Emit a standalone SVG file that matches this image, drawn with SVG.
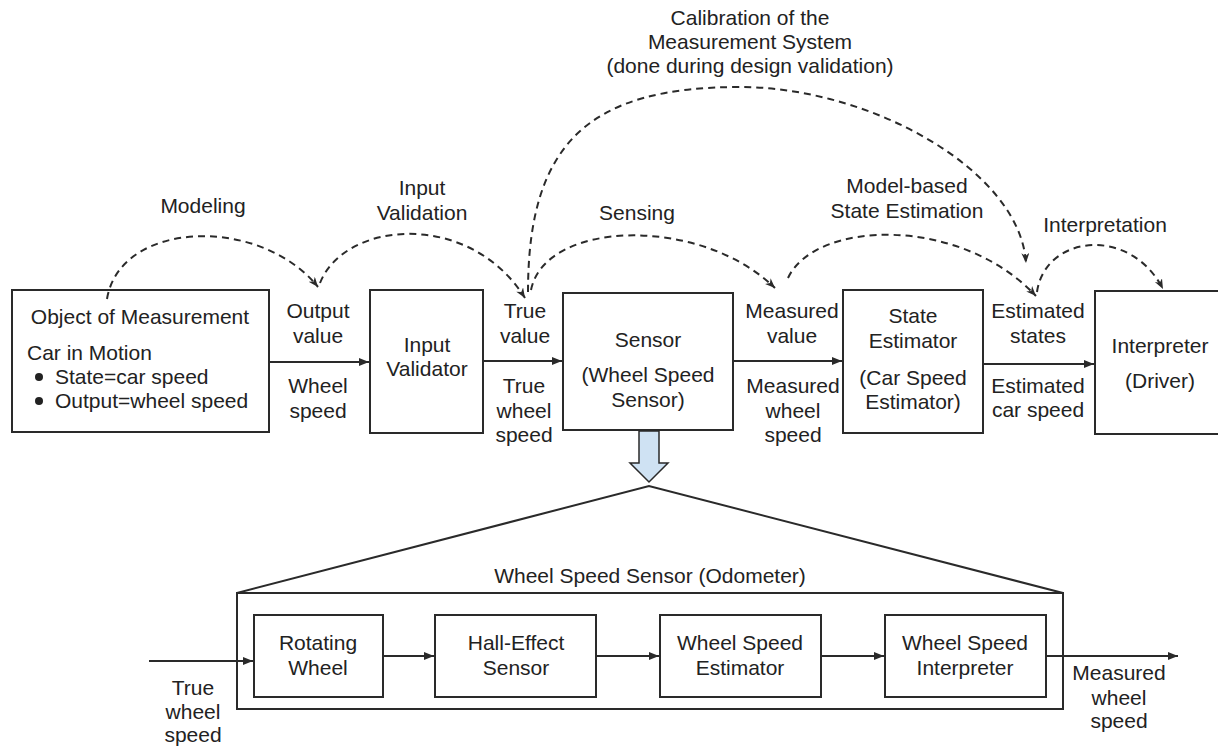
<svg xmlns="http://www.w3.org/2000/svg" width="1218" height="748" viewBox="0 0 1218 748">
<style>
text{font-family:"Liberation Sans",Arial,sans-serif;font-size:21px;fill:#222;}
.c{text-anchor:middle;}
.box{fill:#fff;stroke:#2a2a2a;stroke-width:2;}
.frame{fill:none;stroke:#2a2a2a;stroke-width:2;}
.ln{fill:none;stroke:#2a2a2a;stroke-width:2;}
.ds{fill:none;stroke:#2a2a2a;stroke-width:2;stroke-dasharray:7 5;}
</style>
<defs>
<marker id="ah" markerUnits="userSpaceOnUse" markerWidth="11" markerHeight="9" refX="10" refY="4" orient="auto">
<path d="M0,0 L10,4 L0,8 z" fill="#2a2a2a"/>
</marker>
<marker id="dh" markerUnits="userSpaceOnUse" markerWidth="11" markerHeight="9" refX="10" refY="4" orient="auto">
<path d="M0,0 L10,4 L0,8 L3,4 z" fill="#2a2a2a"/>
</marker>
</defs>
<rect width="1218" height="748" fill="#fff"/>

<g id="object">
<rect class="box" x="12" y="290" width="257" height="142"/>
<text class="c" x="140" y="324">Object of Measurement</text>
<text x="27" y="360">Car in Motion</text>
<circle cx="39" cy="377" r="4" fill="#222"/>
<text x="55" y="384">State=car speed</text>
<circle cx="39" cy="401" r="4" fill="#222"/>
<text x="55" y="408">Output=wheel speed</text>
</g>

<g id="input-validator">
<rect class="box" x="370" y="290" width="113" height="143"/>
<text class="c" x="427" y="352">Input</text>
<text class="c" x="427" y="376">Validator</text>
</g>

<g id="sensor">
<rect class="box" x="563" y="293" width="170" height="137"/>
<text class="c" x="648" y="347">Sensor</text>
<text class="c" x="648" y="382">(Wheel Speed</text>
<text class="c" x="648" y="407">Sensor)</text>
</g>

<g id="state-estimator">
<rect class="box" x="843" y="290" width="140" height="143"/>
<text class="c" x="913" y="323">State</text>
<text class="c" x="913" y="348">Estimator</text>
<text class="c" x="913" y="385">(Car Speed</text>
<text class="c" x="913" y="409">Estimator)</text>
</g>

<g id="interpreter">
<rect class="box" x="1095" y="291" width="135" height="143"/>
<text class="c" x="1160" y="353">Interpreter</text>
<text class="c" x="1160" y="388">(Driver)</text>
</g>

<g id="odometer">
<rect class="frame" x="237" y="593" width="826" height="116"/>
<text class="c" x="650" y="583">Wheel Speed Sensor (Odometer)</text>
</g>

<g id="rotating-wheel">
<rect class="box" x="254" y="615" width="129" height="82"/>
<text class="c" x="318" y="650">Rotating</text>
<text class="c" x="318" y="675">Wheel</text>
</g>

<g id="hall-effect">
<rect class="box" x="435" y="615" width="161" height="82"/>
<text class="c" x="516" y="650">Hall-Effect</text>
<text class="c" x="516" y="675">Sensor</text>
</g>

<g id="ws-estimator">
<rect class="box" x="660" y="615" width="161" height="82"/>
<text class="c" x="740" y="650">Wheel Speed</text>
<text class="c" x="740" y="675">Estimator</text>
</g>

<g id="ws-interpreter">
<rect class="box" x="885" y="615" width="161" height="82"/>
<text class="c" x="965" y="650">Wheel Speed</text>
<text class="c" x="965" y="675">Interpreter</text>
</g>

<g id="connectors">
<line class="ln" x1="269" y1="362" x2="369" y2="362" marker-end="url(#ah)"/>
<line class="ln" x1="483" y1="361" x2="562" y2="361" marker-end="url(#ah)"/>
<line class="ln" x1="733" y1="361" x2="842" y2="361" marker-end="url(#ah)"/>
<line class="ln" x1="983" y1="364" x2="1094" y2="364" marker-end="url(#ah)"/>
<path class="ds" d="M107,299 C120,220 260,215 318,287" marker-end="url(#dh)"/>
<path class="ds" d="M320,283 C345,220 470,210 525,298" marker-end="url(#dh)"/>
<path class="ds" d="M531,290 C545,220 700,215 775,288" marker-end="url(#dh)"/>
<path class="ds" d="M528,292 C528,142 590,87 740,87 C870,87 1020,170 1026,263" marker-end="url(#dh)"/>
<path class="ds" d="M788,278 C815,220 960,215 1036,296" marker-end="url(#dh)"/>
<path class="ds" d="M1037,292 C1045,235 1130,225 1163,289" marker-end="url(#dh)"/>
<line class="ln" x1="149" y1="661" x2="253" y2="661" marker-end="url(#ah)"/>
<line class="ln" x1="383" y1="656" x2="434" y2="656" marker-end="url(#ah)"/>
<line class="ln" x1="596" y1="656" x2="659" y2="656" marker-end="url(#ah)"/>
<line class="ln" x1="821" y1="656" x2="884" y2="656" marker-end="url(#ah)"/>
<line class="ln" x1="1046" y1="656" x2="1178" y2="656" marker-end="url(#ah)"/>
<polyline class="ln" points="237,593 649,486 1063,593"/>
<polygon points="639,431 659,431 659,463 668,463 649,482 630,463 639,463" fill="#cfe2f3" stroke="#2a2a2a" stroke-width="1.5"/>
</g>

<g id="edge-labels">
<text class="c" x="203" y="213">Modeling</text>
<text class="c" x="422" y="195">Input</text>
<text class="c" x="422" y="220">Validation</text>
<text class="c" x="637" y="220">Sensing</text>
<text class="c" x="750" y="25">Calibration of the</text>
<text class="c" x="750" y="49">Measurement System</text>
<text class="c" x="750" y="73">(done during design validation)</text>
<text class="c" x="907" y="193">Model-based</text>
<text class="c" x="907" y="218">State Estimation</text>
<text class="c" x="1105" y="232">Interpretation</text>
<text class="c" x="318" y="318">Output</text>
<text class="c" x="318" y="343">value</text>
<text class="c" x="318" y="393">Wheel</text>
<text class="c" x="318" y="418">speed</text>
<text class="c" x="525" y="318">True</text>
<text class="c" x="525" y="343">value</text>
<text class="c" x="524" y="393">True</text>
<text class="c" x="524" y="418">wheel</text>
<text class="c" x="524" y="442">speed</text>
<text class="c" x="792" y="318">Measured</text>
<text class="c" x="792" y="343">value</text>
<text class="c" x="793" y="393">Measured</text>
<text class="c" x="793" y="418">wheel</text>
<text class="c" x="793" y="442">speed</text>
<text class="c" x="1038" y="318">Estimated</text>
<text class="c" x="1038" y="343">states</text>
<text class="c" x="1038" y="393">Estimated</text>
<text class="c" x="1038" y="417">car speed</text>
<text class="c" x="193" y="695">True</text>
<text class="c" x="193" y="719">wheel</text>
<text class="c" x="193" y="742">speed</text>
<text class="c" x="1119" y="680">Measured</text>
<text class="c" x="1119" y="705">wheel</text>
<text class="c" x="1119" y="728">speed</text>
</g>
</svg>
